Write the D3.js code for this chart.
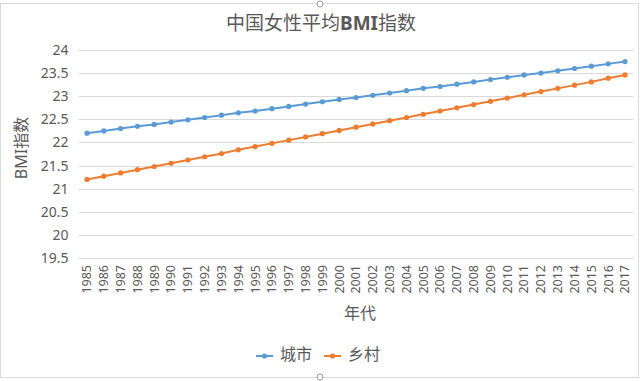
<!DOCTYPE html>
<html><head><meta charset="utf-8">
<script src="https://cdn.jsdelivr.net/npm/d3@7/dist/d3.min.js"></script>
<style>body{margin:0;background:#fff}svg{display:block}</style>
</head><body>
<svg id="c" width="640" height="381"></svg>
<script>
const years = d3.range(1985, 2018).map(String);
const urban = [22.20,22.25,22.30,22.35,22.39,22.44,22.49,22.54,22.59,22.64,22.68,22.73,22.78,22.83,22.88,22.93,22.97,23.02,23.07,23.12,23.17,23.21,23.26,23.31,23.36,23.41,23.46,23.50,23.55,23.60,23.65,23.70,23.75];
const rural = [21.20,21.27,21.34,21.41,21.48,21.55,21.62,21.69,21.76,21.84,21.91,21.98,22.05,22.12,22.19,22.26,22.33,22.40,22.47,22.54,22.61,22.68,22.75,22.82,22.89,22.96,23.03,23.10,23.17,23.24,23.31,23.39,23.46];
const yTicks = [19.5,20,20.5,21,21.5,22,22.5,23,23.5,24];
const seriesNames = ["城市","乡村"];
const colors = ["#5B9BD5","#ED7D31"];

const svg = d3.select("#c");
const numFont = "'Noto Sans', 'Open Sans', sans-serif";
const cjkFont = "'Noto Sans CJK SC', sans-serif";
const txt = "#595959";

// border
svg.append("rect").attr("x",0.5).attr("y",3.5).attr("width",638).attr("height",374)
  .attr("fill","#fff").attr("stroke","#d9d9d9");

const L = 78.6, R = 633.4, T = 50, B = 258;
const x = d3.scaleBand().domain(years).range([L,R]);
const y = d3.scaleLinear().domain([19.5,24]).range([B,T]);

// grid
svg.append("g").selectAll("line").data(yTicks).join("line")
  .attr("x1",L).attr("x2",R).attr("y1",d=>Math.round(y(d))+0.5).attr("y2",d=>Math.round(y(d))+0.5)
  .attr("stroke","#d9d9d9").attr("stroke-width",1);

// y axis
const ya = svg.append("g").attr("transform",`translate(${L},0)`)
  .call(d3.axisLeft(y).tickValues(yTicks).tickSize(0).tickPadding(10).tickFormat(d=>String(d)));
ya.select(".domain").remove();
ya.selectAll("text").attr("fill",txt).style("font-family",numFont).style("font-size","14px");

// x axis
const xa = svg.append("g").attr("transform",`translate(0,${B})`)
  .call(d3.axisBottom(x).tickSize(0).tickPadding(0));
xa.select(".domain").remove();
xa.selectAll("text").attr("fill",txt).style("font-family",numFont).style("font-size","12.5px")
  .attr("text-anchor","end").attr("dy","0.35em").attr("transform","translate(0,7) rotate(-90)").attr("x",0).attr("y",0);

// lines
const data = [urban, rural];
const line = d3.line().x((d,i)=>x(years[i])+x.bandwidth()/2).y(d=>y(d));
data.forEach((s,k)=>{
  svg.append("path").datum(s).attr("d",line).attr("fill","none")
    .attr("stroke",colors[k]).attr("stroke-width",2);
  svg.append("g").selectAll("circle").data(s).join("circle")
    .attr("cx",(d,i)=>x(years[i])+x.bandwidth()/2).attr("cy",d=>y(d)).attr("r",2.6)
    .attr("fill",colors[k]);
});

// title
const title = svg.append("text").attr("x",321).attr("y",25).attr("text-anchor","middle")
  .attr("dominant-baseline","middle").attr("fill",txt).style("font-size","19px");
title.append("tspan").style("font-family",cjkFont).text("中国女性平均");
title.append("tspan").style("font-family",numFont).style("font-weight","bold").text("BMI");
title.append("tspan").style("font-family",cjkFont).text("指数");

// y title
const yt = svg.append("text").attr("transform","translate(23,148) rotate(-90)").attr("text-anchor","middle")
  .attr("dominant-baseline","middle").attr("fill",txt).style("font-size","16px");
yt.append("tspan").style("font-family",numFont).text("BMI");
yt.append("tspan").style("font-family",cjkFont).text("指数");

// x title
svg.append("text").attr("x",(L+R)/2+4).attr("y",315).attr("text-anchor","middle")
  .attr("dominant-baseline","middle").attr("fill",txt).style("font-family",cjkFont).style("font-size","16px").text("年代");

// legend
const lx = [256, 324];
seriesNames.forEach((n,k)=>{
  const g = svg.append("g");
  g.append("line").attr("x1",lx[k]).attr("x2",lx[k]+17).attr("y1",356).attr("y2",356)
    .attr("stroke",colors[k]).attr("stroke-width",2);
  g.append("circle").attr("cx",lx[k]+8.5).attr("cy",356).attr("r",2.6).attr("fill",colors[k]);
  g.append("text").attr("x",lx[k]+24).attr("y",356).attr("dominant-baseline","middle")
    .attr("fill",txt).style("font-family",cjkFont).style("font-size","16px").text(n);
});

// handles
[[320,4],[320,377]].forEach(p=>svg.append("circle").attr("cx",p[0]).attr("cy",p[1]).attr("r",3)
  .attr("fill","#fff").attr("stroke","#999"));
</script>
</body></html>
